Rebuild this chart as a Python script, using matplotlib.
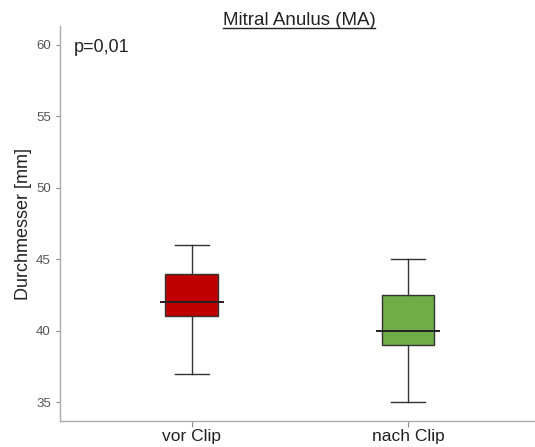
import matplotlib
matplotlib.use('Agg')
import matplotlib.pyplot as plt
from matplotlib.lines import Line2D

plt.rcParams['font.family'] = ['Liberation Sans', 'DejaVu Sans']

groups = ['vor Clip', 'nach Clip']
whisker_low = [37, 35]
q1 = [41, 39]
median = [42, 40]
q3 = [44, 42.5]
whisker_high = [46, 45]
colors = ['#C00000', '#70AD47']
p_text = 'p=0,01'

fig = plt.figure(figsize=(5.35, 4.47), dpi=100)
ax = fig.add_axes([0.112, 0.058, 0.888, 0.884])

stats = []
for i, g in enumerate(groups):
    stats.append({'label': g, 'whislo': whisker_low[i], 'q1': q1[i], 'med': median[i],
                  'q3': q3[i], 'whishi': whisker_high[i], 'fliers': []})

pos = list(range(len(groups)))
bp = ax.bxp(stats, positions=pos, widths=0.245, patch_artist=True, showfliers=False,
            boxprops=dict(edgecolor='#333333', linewidth=1.0),
            whiskerprops=dict(color='#333333', linewidth=1.0),
            capprops=dict(color='#333333', linewidth=1.0),
            medianprops=dict(visible=False), capwidths=0.16)
for patch, c in zip(bp['boxes'], colors):
    patch.set_facecolor(c)

# median lines wider than the box
for i, m in enumerate(median):
    ax.hlines(m, pos[i] - 0.15, pos[i] + 0.15, color='#222222', linewidth=1.4, zorder=4)

ax.set_xlim(-0.611, 1.588)
ax.set_ylim(33.67, 61.33)
ax.set_yticks([35, 40, 45, 50, 55, 60])
ax.set_xticks(pos)
ax.set_xticklabels(groups, fontsize=12.5, color='#222222')
ax.tick_params(axis='y', labelsize=9.5, labelcolor='#555555', color='#888888', length=3, width=0.8)
ax.tick_params(axis='x', color='#888888', length=4, width=0.8, pad=2)

for s in ['top', 'right']:
    ax.spines[s].set_visible(False)
for s in ['left', 'bottom']:
    ax.spines[s].set_color('#aaaaaa')
    ax.spines[s].set_linewidth(1.0)

ax.set_ylabel('Durchmesser [mm]', fontsize=13, color='#222222', labelpad=3)
ax.text(0.03, 0.945, p_text, transform=ax.transAxes, fontsize=13, color='#222222', va='center')

title = fig.text(0.559, 0.955, 'Mitral Anulus (MA)', fontsize=13.5, color='#222222',
                 ha='center', va='center')
fig.canvas.draw()
bb = title.get_window_extent().transformed(fig.transFigure.inverted())
fig.add_artist(Line2D([bb.x0, bb.x1], [bb.y0 + 0.002, bb.y0 + 0.002], color='#222222',
                      linewidth=1.0, transform=fig.transFigure))

fig.savefig('out.png', dpi=100)
